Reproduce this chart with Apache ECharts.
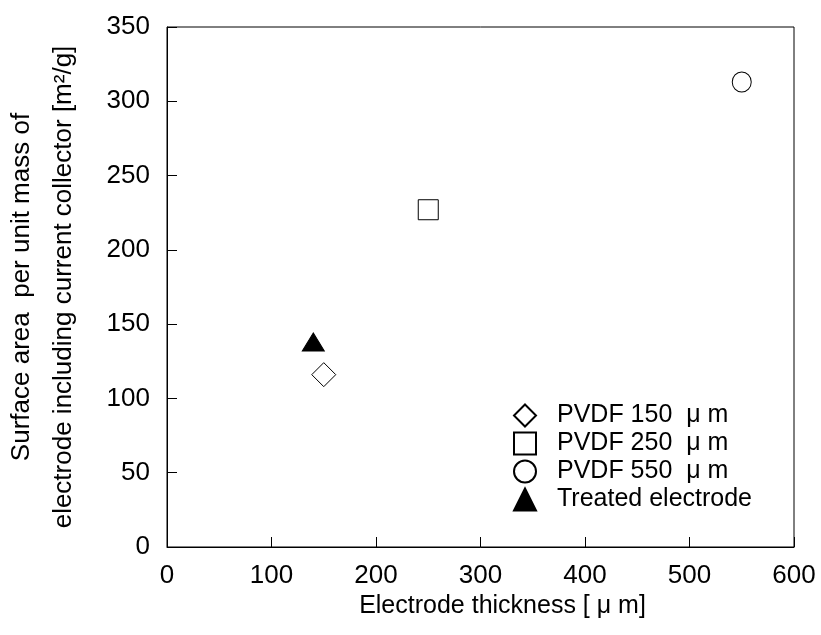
<!DOCTYPE html>
<html><head><meta charset="utf-8">
<script src="https://cdn.jsdelivr.net/npm/echarts@6/dist/echarts.min.js"></script>
<style>html,body{margin:0;padding:0;background:#fff}#c{width:821px;height:635px}</style>
</head><body><div id="c"></div>
<script>
const seriesNames = ['PVDF 150  \u03bc m', 'PVDF 250  \u03bc m', 'PVDF 550  \u03bc m', 'Treated electrode'];
const thicknessX = [150, 250, 550, 140];
const surfaceAreaY = [116, 227, 313, 138];
const xTicks = [0, 100, 200, 300, 400, 500, 600];
const yTicks = [0, 50, 100, 150, 200, 250, 300, 350];

const symbols = ['diamond', 'rect', 'circle', 'triangle'];
const sizes = [[24, 24], [20, 20], [19, 20], [22, 18]];
const fills = ['#fff', '#fff', '#fff', '#000'];
const FONT = 'Liberation Sans, Arial, sans-serif';

const chart = echarts.init(document.getElementById('c'));
chart.setOption({
  animation: false,
  textStyle: { fontFamily: FONT, color: '#000' },
  grid: { left: 167, right: 27, top: 27, bottom: 88, show: true, borderColor: '#000', borderWidth: 1,
          containLabel: false, outerBoundsMode: 'none' },
  xAxis: {
    type: 'value', min: xTicks[0], max: xTicks[xTicks.length - 1], interval: 100,
    axisLine: { lineStyle: { color: '#000' } },
    axisTick: { inside: true, length: 10, lineStyle: { color: '#000' } },
    splitLine: { show: false },
    axisLabel: { fontSize: 26, color: '#000', margin: 16, fontFamily: FONT },
    name: 'Electrode thickness [ \u03bc m]', nameLocation: 'middle', nameGap: 45,
    nameTextStyle: { fontSize: 25, color: '#000', fontFamily: FONT, padding: [0, 0, 0, 44] }
  },
  yAxis: {
    type: 'value', min: yTicks[0], max: yTicks[yTicks.length - 1], interval: 50,
    axisLine: { lineStyle: { color: '#000' } },
    axisTick: { inside: true, length: 10, lineStyle: { color: '#000' } },
    splitLine: { show: false },
    axisLabel: { fontSize: 26, color: '#000', margin: 17, fontFamily: FONT },
    name: 'Surface area  per unit mass of\nelectrode including current collector [m\u00b2/g]',
    nameLocation: 'middle', nameGap: 82, nameRotate: 90,
    nameTextStyle: { fontSize: 26, color: '#000', lineHeight: 42, fontFamily: FONT }
  },
  legend: {
    orient: 'vertical', left: 508, top: 398, itemGap: 3, itemWidth: 22, itemHeight: 22,
    textStyle: { fontSize: 25, color: '#000', fontFamily: FONT, padding: [0, 0, 0, 16] },
    data: seriesNames.map((n, i) => ({ name: n, icon: symbols[i] }))
  },
  series: seriesNames.map((n, i) => ({
    name: n, type: 'scatter',
    symbol: symbols[i], symbolSize: sizes[i],
    itemStyle: { color: fills[i], borderColor: '#000', borderWidth: 1, opacity: 1 },
    data: [[thicknessX[i], surfaceAreaY[i]]]
  }))
});
</script></body></html>
